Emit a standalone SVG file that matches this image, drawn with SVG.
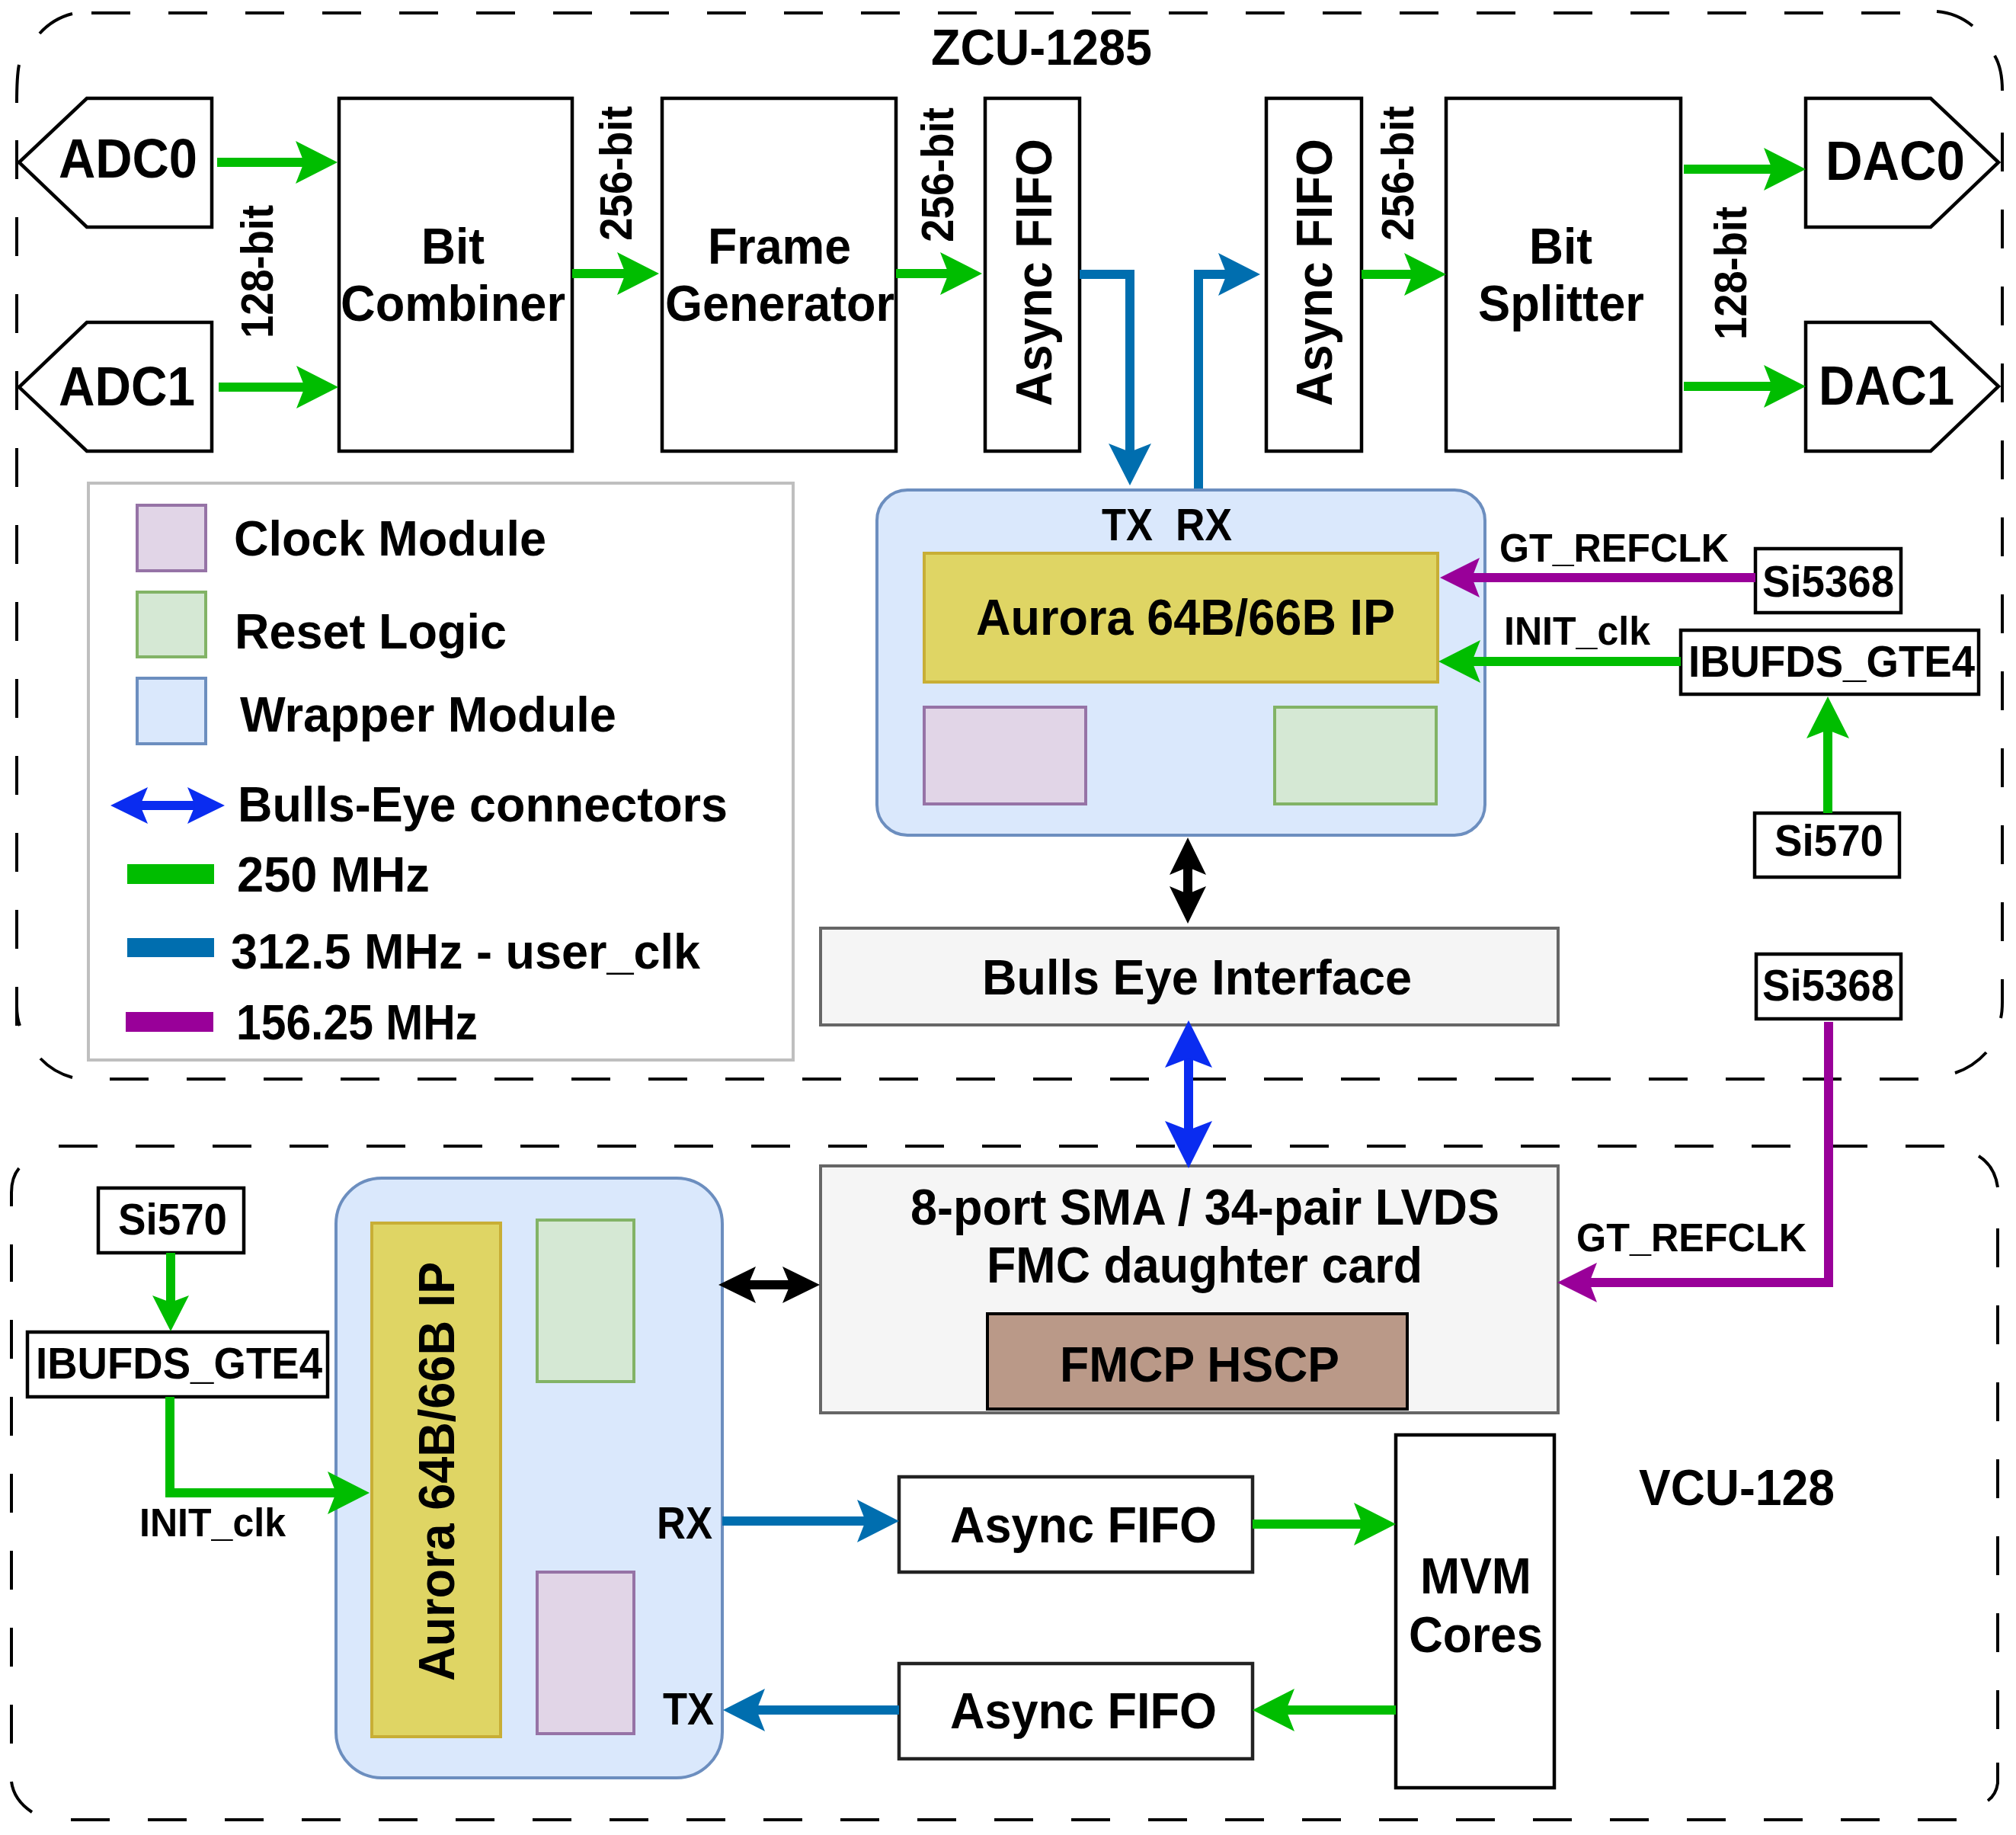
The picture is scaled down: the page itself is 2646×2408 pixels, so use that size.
<svg xmlns="http://www.w3.org/2000/svg" width="2646" height="2408" viewBox="0 0 2646 2408">
<style>
text{font-family:"Liberation Sans",Arial,sans-serif;font-weight:700;fill:#000}
.s62{font-size:67px}.s60{font-size:65px}.s55{font-size:59px}.s53{font-size:57px}.s47{font-size:51px}.s66{font-size:72px}
.box{fill:#fff;stroke:#000;stroke-width:4.5}
.wrap{fill:#dae8fc;stroke:#6c8ebf;stroke-width:4}
.ip{fill:#dfd564;stroke:#c8ae35;stroke-width:4}
.clk{fill:#e1d5e7;stroke:#9673a6;stroke-width:4}
.rst{fill:#d5e8d4;stroke:#82b366;stroke-width:4}
.grey{fill:#f5f5f5;stroke:#666;stroke-width:4}
.dash{fill:none;stroke:#000;stroke-width:4;stroke-dasharray:51 50}
.arc{fill:none;stroke:#000;stroke-width:4}
.c{fill:none;stroke-width:12}
.g{stroke:#00bd00;marker-end:url(#ag)}
.b{stroke:#006eaf;marker-end:url(#ab)}
.p{stroke:#990099;marker-end:url(#ap)}
.k{stroke:#000;marker-start:url(#ak);marker-end:url(#ak)}
.bb{stroke:#0a2cf0;marker-start:url(#abb);marker-end:url(#abb)}
</style>
<defs>
<marker id="ag" markerUnits="userSpaceOnUse" markerWidth="56" markerHeight="56" refX="11" refY="28" orient="auto-start-reverse"><path d="M0,0L55,28L0,56L11,28Z" fill="#00bd00"/></marker>
<marker id="ags" markerUnits="userSpaceOnUse" markerWidth="48" markerHeight="48" refX="9" refY="24" orient="auto-start-reverse"><path d="M0,0L47,24L0,48L9,24Z" fill="#00bd00"/></marker>
<marker id="ab" markerUnits="userSpaceOnUse" markerWidth="56" markerHeight="56" refX="11" refY="28" orient="auto-start-reverse"><path d="M0,0L55,28L0,56L11,28Z" fill="#006eaf"/></marker>
<marker id="ap" markerUnits="userSpaceOnUse" markerWidth="52" markerHeight="52" refX="10" refY="26" orient="auto-start-reverse"><path d="M0,0L52,26L0,52L10,26Z" fill="#990099"/></marker>
<marker id="ak" markerUnits="userSpaceOnUse" markerWidth="49" markerHeight="48" refX="10" refY="24" orient="auto-start-reverse"><path d="M0,0L49,24L0,48L10,24Z" fill="#000"/></marker>
<marker id="abb" markerUnits="userSpaceOnUse" markerWidth="62" markerHeight="62" refX="12" refY="31" orient="auto-start-reverse"><path d="M0,0L62,31L0,62L12,31Z" fill="#0a2cf0"/></marker>
<marker id="abl" markerUnits="userSpaceOnUse" markerWidth="49" markerHeight="48" refX="10" refY="24" orient="auto-start-reverse"><path d="M0,0L49,24L0,48L10,24Z" fill="#0a2cf0"/></marker>
</defs>
<rect width="2646" height="2408" fill="#fff"/>

<g id="zcu-board">
<path class="dash" d="M120,17H2500M2628,174V1240M2518,1416H140M22,1346V130"/>
<path class="arc" d="M52,44A85,85 0 0 1 95,18M2542,15A85,85 0 0 1 2589,34M2618,73Q2628,90 2628,119M2628,1285V1315Q2628,1328 2626,1336M2607,1381Q2590,1400 2566,1408M95,1414Q70,1407 53,1389M22,1297V1320Q22,1335 26,1346M25,85Q22,100 22,135"/>
<text class="s62" x="1222" y="85" textLength="290" lengthAdjust="spacingAndGlyphs">ZCU-1285</text>
</g>
<g id="vcu-board">
<path class="dash" d="M77,1504H2555M2622,1612V2300M2568,2388H93M15,2288V1633"/>
<path class="arc" d="M15,1583V1565Q15,1545 25,1533M2597,1517Q2618,1530 2622,1558M2622,2313V2340Q2620,2355 2609,2363M15,2338Q18,2362 42,2378"/>
<text class="s62" x="2151" y="1975" textLength="257" lengthAdjust="spacingAndGlyphs">VCU-128</text>
</g>

<g id="adc0"><path class="box" d="M114,129H278V298H114L25,213Z"/><text class="s66" x="77" y="233" textLength="182" lengthAdjust="spacingAndGlyphs">ADC0</text></g>
<g id="adc1"><path class="box" d="M114,423H278V592H114L25,508Z"/><text class="s66" x="77" y="532" textLength="179" lengthAdjust="spacingAndGlyphs">ADC1</text></g>
<g id="bit-combiner"><rect class="box" x="445" y="129" width="306" height="463"/><text class="s62" x="553" y="346" textLength="83" lengthAdjust="spacingAndGlyphs">Bit</text><text class="s62" x="447" y="421" textLength="295" lengthAdjust="spacingAndGlyphs">Combiner</text></g>
<g id="frame-generator"><rect class="box" x="869" y="129" width="307" height="463"/><text class="s62" x="929" y="346" textLength="188" lengthAdjust="spacingAndGlyphs">Frame</text><text class="s62" x="873" y="421" textLength="301" lengthAdjust="spacingAndGlyphs">Generator</text></g>
<g id="async-fifo-tx"><rect class="box" x="1293" y="129" width="124" height="463"/><text class="s62" transform="rotate(-90 1380 533)" x="1380" y="533" textLength="351" lengthAdjust="spacingAndGlyphs">Async FIFO</text></g>
<g id="async-fifo-rx"><rect class="box" x="1662" y="129" width="125" height="463"/><text class="s62" transform="rotate(-90 1748 533)" x="1748" y="533" textLength="351" lengthAdjust="spacingAndGlyphs">Async FIFO</text></g>
<g id="bit-splitter"><rect class="box" x="1898" y="129" width="308" height="463"/><text class="s62" x="2007" y="346" textLength="83" lengthAdjust="spacingAndGlyphs">Bit</text><text class="s62" x="1940" y="421" textLength="218" lengthAdjust="spacingAndGlyphs">Splitter</text></g>
<g id="dac0"><path class="box" d="M2370,129H2534L2623,213L2534,298H2370Z"/><text class="s66" x="2396" y="236" textLength="183" lengthAdjust="spacingAndGlyphs">DAC0</text></g>
<g id="dac1"><path class="box" d="M2370,423H2534L2623,507L2534,592H2370Z"/><text class="s66" x="2387" y="531" textLength="178" lengthAdjust="spacingAndGlyphs">DAC1</text></g>

<g id="width-labels">
<text class="s55" transform="rotate(-90 358 444)" x="358" y="444" textLength="175" lengthAdjust="spacingAndGlyphs">128-bit</text>
<text class="s55" transform="rotate(-90 829 316)" x="829" y="316" textLength="177" lengthAdjust="spacingAndGlyphs">256-bit</text>
<text class="s55" transform="rotate(-90 1251 318)" x="1251" y="318" textLength="177" lengthAdjust="spacingAndGlyphs">256-bit</text>
<text class="s55" transform="rotate(-90 1855 316)" x="1855" y="316" textLength="177" lengthAdjust="spacingAndGlyphs">256-bit</text>
<text class="s55" transform="rotate(-90 2292 446)" x="2292" y="446" textLength="175" lengthAdjust="spacingAndGlyphs">128-bit</text>
</g>

<g id="legend">
<rect x="116" y="634" width="925" height="757" fill="#fff" stroke="#bfbfbf" stroke-width="4"/>
<rect class="clk" x="180" y="663" width="90" height="86"/>
<rect class="rst" x="180" y="777" width="90" height="85"/>
<rect class="wrap" x="180" y="890" width="90" height="86"/>
<text class="s60" x="307" y="729" textLength="410" lengthAdjust="spacingAndGlyphs">Clock Module</text>
<text class="s60" x="308" y="851" textLength="357" lengthAdjust="spacingAndGlyphs">Reset Logic</text>
<text class="s60" x="315" y="960" textLength="494" lengthAdjust="spacingAndGlyphs">Wrapper Module</text>
<text class="s60" x="312" y="1078" textLength="643" lengthAdjust="spacingAndGlyphs">Bulls-Eye connectors</text>
<text class="s60" x="311" y="1170" textLength="253" lengthAdjust="spacingAndGlyphs">250 MHz</text>
<text class="s60" x="303" y="1271" textLength="616" lengthAdjust="spacingAndGlyphs">312.5 MHz - user_clk</text>
<text class="s60" x="310" y="1364" textLength="317" lengthAdjust="spacingAndGlyphs">156.25 MHz</text>
<path d="M184,1057H256" fill="none" stroke="#0a2cf0" stroke-width="12" marker-start="url(#abl)" marker-end="url(#abl)"/>
<rect x="167" y="1134" width="114" height="26" fill="#00bd00"/>
<rect x="167" y="1231" width="114" height="25" fill="#006eaf"/>
<rect x="165" y="1328" width="115" height="26" fill="#990099"/>
</g>

<g id="wrapper-top">
<rect class="wrap" x="1151" y="643" width="798" height="453" rx="40"/>
<text class="s55" x="1446" y="709" textLength="67" lengthAdjust="spacingAndGlyphs">TX</text>
<text class="s55" x="1543" y="709" textLength="74" lengthAdjust="spacingAndGlyphs">RX</text>
<rect class="ip" x="1213" y="726" width="674" height="169"/>
<text class="s62" x="1281" y="833" textLength="550" lengthAdjust="spacingAndGlyphs">Aurora 64B/66B IP</text>
<rect class="clk" x="1213" y="928" width="212" height="127"/>
<rect class="rst" x="1673" y="928" width="212" height="127"/>
</g>
<g id="si5368-top"><rect class="box" x="2304" y="720" width="191" height="84"/><text class="s53" x="2313" y="783" textLength="173" lengthAdjust="spacingAndGlyphs">Si5368</text></g>
<g id="ibufds-top"><rect class="box" x="2206" y="827" width="391" height="84"/><text class="s53" x="2216" y="888" textLength="376" lengthAdjust="spacingAndGlyphs">IBUFDS_GTE4</text></g>
<g id="si570-top"><rect class="box" x="2303" y="1067" width="190" height="84"/><text class="s53" x="2329" y="1123" textLength="143" lengthAdjust="spacingAndGlyphs">Si570</text></g>
<g id="bulls-eye"><rect class="grey" x="1077" y="1218" width="968" height="127"/><text class="s60" x="1289" y="1305" textLength="564" lengthAdjust="spacingAndGlyphs">Bulls Eye Interface</text></g>
<g id="si5368-bottom"><rect class="box" x="2305" y="1252" width="190" height="85"/><text class="s53" x="2313" y="1313" textLength="173" lengthAdjust="spacingAndGlyphs">Si5368</text></g>

<g id="fmc-card">
<rect class="grey" x="1077" y="1530" width="968" height="324"/>
<text class="s62" x="1195" y="1607" textLength="773" lengthAdjust="spacingAndGlyphs">8-port SMA / 34-pair LVDS</text>
<text class="s62" x="1295" y="1683" textLength="572" lengthAdjust="spacingAndGlyphs">FMC daughter card</text>
<rect x="1296" y="1724" width="551" height="125" fill="#ba9988" stroke="#000" stroke-width="4"/>
<text class="s60" x="1391" y="1813" textLength="367" lengthAdjust="spacingAndGlyphs">FMCP HSCP</text>
</g>
<g id="async-fifo-b1"><rect class="box" style="stroke:#222" x="1180" y="1938" width="464" height="125"/><text class="s62" x="1247" y="2024" textLength="350" lengthAdjust="spacingAndGlyphs">Async FIFO</text></g>
<g id="async-fifo-b2"><rect class="box" style="stroke:#222" x="1180" y="2183" width="464" height="125"/><text class="s62" x="1247" y="2268" textLength="350" lengthAdjust="spacingAndGlyphs">Async FIFO</text></g>
<g id="mvm-cores"><rect class="box" x="1832" y="1883" width="208" height="463"/><text class="s62" x="1864" y="2091" textLength="146" lengthAdjust="spacingAndGlyphs">MVM</text><text class="s62" x="1849" y="2168" textLength="176" lengthAdjust="spacingAndGlyphs">Cores</text></g>

<g id="wrapper-bottom">
<rect class="wrap" x="441" y="1546" width="507" height="787" rx="60"/>
<rect class="ip" x="488" y="1605" width="169" height="674"/>
<text class="s62" transform="rotate(-90 596 2206)" x="596" y="2206" textLength="550" lengthAdjust="spacingAndGlyphs">Aurora 64B/66B IP</text>
<rect class="rst" x="705" y="1601" width="127" height="212"/>
<rect class="clk" x="705" y="2063" width="127" height="212"/>
<text class="s55" x="862" y="2019" textLength="73" lengthAdjust="spacingAndGlyphs">RX</text>
<text class="s55" x="870" y="2263" textLength="67" lengthAdjust="spacingAndGlyphs">TX</text>
</g>
<g id="si570-bottom"><rect class="box" x="129" y="1559" width="191" height="85"/><text class="s53" x="155" y="1620" textLength="143" lengthAdjust="spacingAndGlyphs">Si570</text></g>
<g id="ibufds-bottom"><rect class="box" x="36" y="1748" width="394" height="85"/><text class="s53" x="47" y="1809" textLength="376" lengthAdjust="spacingAndGlyphs">IBUFDS_GTE4</text></g>

<g id="connectors">
<path class="c g" d="M285,213H399"/>
<path class="c g" d="M287,508H400"/>
<path class="c g" d="M751,359H821"/>
<path class="c g" d="M1176,359H1245"/>
<path class="c b" d="M1417,360H1483V593"/>
<path class="c b" d="M1573,641V360H1610"/>
<path class="c g" d="M1787,360H1854"/>
<path class="c g" d="M2210,222H2326"/>
<path class="c g" d="M2210,507H2326"/>
<path class="c p" d="M2304,758H1932"/>
<path class="c g" d="M2206,868H1932"/>
<path class="c g" d="M2399,1067V958"/>
<path class="c k" d="M1559,1138V1173"/>
<path class="c bb" d="M1560,1389V1483"/>
<path class="c p" d="M2400,1341V1683H2086"/>
<path class="c k" d="M982,1686H1037"/>
<path class="c" stroke="#00bd00" marker-end="url(#ags)" d="M224,1644V1709"/>
<path class="c g" d="M223,1833V1959H441"/>
<path class="c b" d="M948,1996H1136"/>
<path class="c b" d="M1180,2244H993"/>
<path class="c g" d="M1644,2000H1788"/>
<path class="c g" d="M1832,2244H1688"/>
</g>

<g id="clock-labels">
<text class="s47" x="1968" y="737" textLength="301" lengthAdjust="spacingAndGlyphs">GT_REFCLK</text>
<text class="s47" x="1974" y="846" textLength="192" lengthAdjust="spacingAndGlyphs">INIT_clk</text>
<text class="s47" x="2069" y="1642" textLength="302" lengthAdjust="spacingAndGlyphs">GT_REFCLK</text>
<text class="s47" x="183" y="2016" textLength="192" lengthAdjust="spacingAndGlyphs">INIT_clk</text>
</g>
</svg>
